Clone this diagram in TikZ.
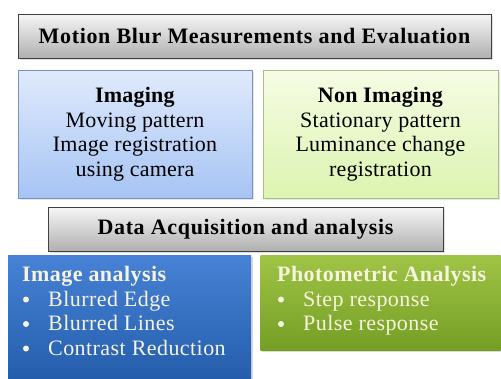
\documentclass[tikz,border=0pt]{standalone}
\usepackage{fontspec}
\setmainfont{Liberation Serif}
\usepackage{xcolor}
\usetikzlibrary{positioning,shadows}
\definecolor{mbgraytop}{RGB}{246,246,246}
\definecolor{mbgraybot}{RGB}{176,176,176}
\definecolor{mbbluetop}{RGB}{224,234,252}
\definecolor{mbbluebot}{RGB}{166,196,244}
\definecolor{mbblueline}{RGB}{120,146,190}
\definecolor{mbgreentop}{RGB}{246,252,228}
\definecolor{mbgreenbot}{RGB}{220,244,176}
\definecolor{mbgreenline}{RGB}{170,190,140}
\definecolor{mbdarktop}{RGB}{72,130,214}
\definecolor{mbdarkbot}{RGB}{34,92,170}
\definecolor{mbolivetop}{RGB}{160,196,70}
\definecolor{mbolivebot}{RGB}{116,158,36}
\definecolor{mbcream}{RGB}{246,244,222}

\begin{document}
\begin{tikzpicture}[x=1pt, y=-1pt,
    headbox/.style={draw=black!75, line width=0.8pt, top color=mbgraytop, bottom color=mbgraybot,
        drop shadow={opacity=0.25, shadow xshift=1.5pt, shadow yshift=-1.5pt},
        font=\fontsize{22}{24}\selectfont\bfseries\addfontfeatures{LetterSpace=3}, inner sep=0pt},
    kindbox/.style={line width=0.6pt, align=center, inner sep=0pt,
        drop shadow={opacity=0.2, shadow xshift=1.5pt, shadow yshift=-1.5pt},
        font=\fontsize{22}{24.5}\selectfont\addfontfeatures{LetterSpace=1}},
    workbox/.style={inner sep=0pt,
        drop shadow={opacity=0.3, shadow xshift=1.5pt, shadow yshift=-1.5pt}},
    worktext/.style={inner sep=0pt, text=mbcream, anchor=base west,
        font=\fontsize{22}{24.5}\selectfont\addfontfeatures{LetterSpace=2}},
    workdot/.style={fill=mbcream}
]
\useasboundingbox (0,0) rectangle (501,378);
\def\mbbase{281.5}
\def\mbstep{24.5}

% Header
\node[headbox, minimum width=473pt, minimum height=44pt] (mbhead) at (254.5,36) {Motion Blur Measurements and Evaluation};

% Measurement kinds
\node[kindbox, draw=mbblueline, top color=mbbluetop, bottom color=mbbluebot,
      minimum width=234pt, minimum height=128pt] (imaging) at (135,134)
    {\textbf{Imaging}\\Moving pattern\\Image registration\\using camera};
\node[kindbox, draw=mbgreenline, top color=mbgreentop, bottom color=mbgreenbot,
      minimum width=235pt, minimum height=128pt] (nonimaging) at (380.5,134)
    {\textbf{Non Imaging}\\Stationary pattern\\Luminance change\\registration};

% Data acquisition
\node[headbox, minimum width=395pt, minimum height=44pt] (acquire) at (245.5,229) {Data Acquisition and analysis};

% Analysis boxes
\node[workbox, top color=mbdarktop, bottom color=mbdarkbot,
      minimum width=243pt, minimum height=128pt] (imganalysis) at (129.5,319) {};
\node[workbox, top color=mbolivetop, bottom color=mbolivebot,
      minimum width=240pt, minimum height=95pt] (photometric) at (380.5,302.5) {};

% Image analysis list
\node[worktext] (imgtitle) at (22,\mbbase) {\textbf{Image analysis}};
\foreach \txt [count=\i] in {Blurred Edge, Blurred Lines, Contrast Reduction} {
    \node[worktext] (imgitem\i) at (48,\mbbase+\mbstep*\i) {\txt};
    \fill[workdot] ([xshift=-22pt, yshift=6.5pt]imgitem\i.base west) circle (3pt);
}

% Photometric list
\node[worktext] (phototitle) at (277,\mbbase) {\textbf{Photometric Analysis}};
\foreach \txt [count=\i] in {Step response, Pulse response} {
    \node[worktext] (photoitem\i) at (303,\mbbase+\mbstep*\i) {\txt};
    \fill[workdot] ([xshift=-22pt, yshift=6.5pt]photoitem\i.base west) circle (3pt);
}

\end{tikzpicture}
\end{document}
